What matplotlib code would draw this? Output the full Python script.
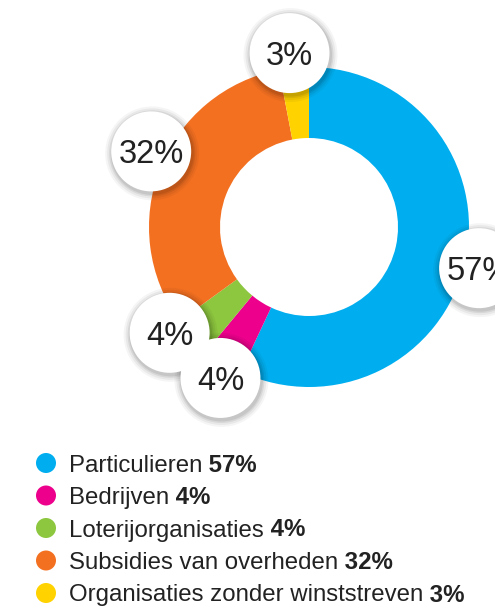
import matplotlib.pyplot as plt
import matplotlib.patches as mpatches
import numpy as np

plt.rcParams['font.family'] = ['Liberation Sans', 'DejaVu Sans']

categories = ['Particulieren', 'Bedrijven', 'Loterijorganisaties',
              'Subsidies van overheden', 'Organisaties zonder winststreven']
values = [57, 4, 4, 32, 3]
colors = ['#00AEEF', '#EC008C', '#8DC63F', '#F37021', '#FFD200']
# small angular nudges (degrees) so the bubbles do not pile up
nudge = [1, -2, 6, 4, -1]

fig = plt.figure(figsize=(4.95, 6.07), dpi=100)
ax = fig.add_axes([0, 0, 1, 1])

cx, cy, R = 309, 380, 160
wedges, _ = ax.pie(values, colors=colors, startangle=90, counterclock=False,
                   center=(cx, cy), radius=R,
                   wedgeprops=dict(width=71, linewidth=0))

# percentage bubbles
total = sum(values)
start = 0
for v, n in zip(values, nudge):
    mid = np.radians((start + v / 2) / total * 360 + n)
    start += v
    bx = cx + 175 * np.sin(mid)
    by = cy + 175 * np.cos(mid)
    for k, a in [(7, 0.04), (5, 0.05), (3, 0.07), (1.5, 0.08)]:
        ax.add_patch(mpatches.Circle((bx + 1, by - 2), 40 + k, color='black',
                                     alpha=a, lw=0, zorder=4))
    ax.add_patch(mpatches.Circle((bx, by), 40, color='white', lw=0, zorder=5))
    ax.text(bx, by, f'{v}%', ha='center', va='center_baseline', fontsize=23.5,
            color='#222222', zorder=6)

# legend
for i, (name, v, c) in enumerate(zip(categories, values, colors)):
    y = 607 - 463 - i * 32.5
    ax.add_patch(mpatches.Circle((46, y), 10, color=c, lw=0))
    t = ax.text(69, y, name, ha='left', va='center_baseline', fontsize=17.3,
                color='#222222')
    ax.annotate(f' {v}%', xy=(1, 0), xycoords=t, ha='left', va='bottom',
                fontsize=17.3, fontweight='bold', color='#222222')

ax.set_xlim(0, 495)
ax.set_ylim(0, 607)
ax.set_aspect('equal')
ax.axis('off')

plt.savefig('out.png', dpi=100)
